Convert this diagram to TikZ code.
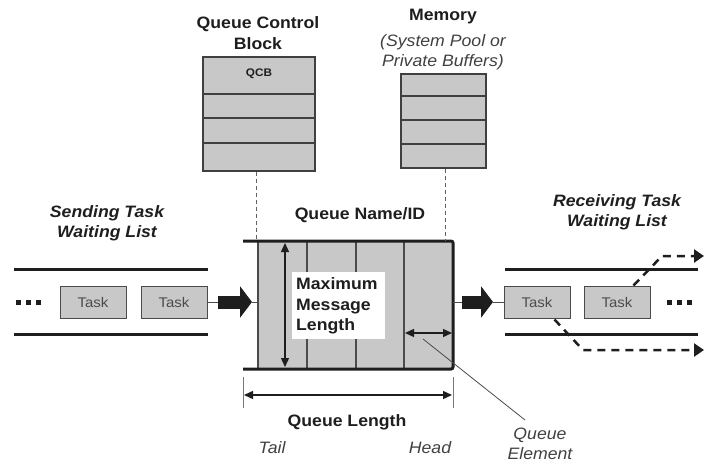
\documentclass[tikz,border=0pt]{standalone}
\usepackage{fontspec}
\setmainfont{Liberation Sans}[FakeStretch=1.07]
\usetikzlibrary{arrows.meta}
\definecolor{cellgray}{HTML}{C8C8C8}
\definecolor{ink}{HTML}{1E1E1E}
\newcommand{\ellipsisdots}{\rule{5pt}{5pt}\hspace{5pt}\rule{5pt}{5pt}\hspace{5pt}\rule{5pt}{5pt}}
\begin{document}
\begin{tikzpicture}[x=1pt,y=-1pt,
  lbl/.style={font=\fontsize{16.5}{20.5}\selectfont\bfseries, align=center, text=ink, inner sep=0pt},
  ilbl/.style={font=\fontsize{16.5}{20.5}\selectfont\itshape, align=center, text=ink!85, inner sep=0pt},
  task/.style={draw=ink!80, line width=1pt, fill=cellgray, minimum width=66pt, minimum height=32pt,
    inner sep=0pt, font=\fontsize{14}{16}\selectfont, text=ink!80},
  rail/.style={line width=3pt, draw=ink},
  thin/.style={line width=0.8pt, draw=ink!80},
  blockarrow/.style={line width=13pt, draw=ink, -{Triangle[length=12pt,width=31pt]}},
  dimarrow/.style={line width=1.4pt, draw=ink, {Triangle[length=9pt,width=8pt]}-{Triangle[length=9pt,width=8pt]}},
  linkdash/.style={line width=1pt, draw=ink!70, dash pattern=on 4pt off 3pt},
  movedash/.style={line width=2.5pt, draw=ink, dash pattern=on 8pt off 6pt, -{Triangle[length=10pt,width=13pt]}},
  stack/.style={draw=ink!85, line width=1.3pt, fill=cellgray, inner sep=0pt},
  dots/.style={inner sep=0pt, text=ink}
]
\useasboundingbox (0,0) rectangle (705,464);

% ---------- Queue control block ----------
\node[lbl] (qcbtitle) at (258,33) {Queue Control\\Block};
\node[stack, minimum width=112pt, minimum height=114pt] (qcb) at (259,114) {};
\foreach \yy in {94,118,143} \draw[line width=1.3pt, ink!85] (203,\yy) -- (315,\yy);
\node[font=\fontsize{11}{13}\selectfont\bfseries, text=ink] (qcblabel) at (259,74) {QCB};

% ---------- Memory ----------
\node[lbl] (memtitle) at (443,17) {Memory};
\node[ilbl] (memsub) at (443,52) {(System Pool or\\Private Buffers)};
\node[stack, minimum width=85pt, minimum height=94pt] (mem) at (443.5,121) {};
\foreach \yy in {96,120,144} \draw[line width=1.3pt, ink!85] (401,\yy) -- (486,\yy);

% ---------- Queue body ----------
\node[lbl] (qname) at (360,215) {Queue Name/ID};
\fill[cellgray] (258,241) rectangle (453,369);
\foreach \xx in {258,307,356,404} \draw[line width=1.2pt, ink!80] (\xx,241) -- (\xx,369);
\draw[line width=3pt, ink, rounded corners=2pt] (243,241) -- (453,241) -- (453,369) -- (243,369);
\coordinate (qin) at (258,302);
\coordinate (qout) at (453,302);

% links from control block and memory to the queue
\draw[linkdash] (qcb.south -| 256,0) -- (256,241);
\draw[linkdash] (mem.south -| 445,0) -- (445,241);

% maximum message length
\draw[dimarrow] (285,243) -- (285,367);
\node[fill=white, minimum width=93pt, minimum height=67pt, inner sep=0pt] (maxbox) at (338.5,305.5) {};
\node[lbl, align=left, anchor=west] (maxlen) at (296,306) {Maximum\\Message\\Length};

% queue element width
\draw[dimarrow] (405,333) -- (452,333);
\coordinate (elemptr) at (423,339);
\node[ilbl] (qelem) at (540,444) {Queue\\Element};
\draw[thin] (elemptr) -- (525,420);

% queue length
\draw[line width=0.8pt, ink!60] (243,377) -- (243,408);
\draw[line width=0.8pt, ink!60] (453,377) -- (453,408);
\draw[dimarrow] (244,395) -- (452,395);
\node[lbl] (qlen) at (347,422) {Queue Length};
\node[ilbl] (tail) at (272,448) {Tail};
\node[ilbl] (head) at (430,448) {Head};

% ---------- Sending side ----------
\node[lbl, font=\fontsize{16.5}{20.5}\selectfont\bfseries\itshape] (sendtitle) at (107,223) {Sending Task\\Waiting List};
\draw[rail] (14,269) -- (208,269);
\draw[rail] (14,334) -- (208,334);
\node[dots] (sdots) at (28.5,302) {\ellipsisdots};
\node[task] (s1) at (93,302) {Task};
\node[task] (s2) at (174,302) {Task};
\coordinate (sa0) at (218,302);
\coordinate (sa1) at (252,302);
\draw[thin] (s2.east) -- (sa0);
\draw[blockarrow] (sa0) -- (sa1);
\draw[thin] (sa1) -- (qin);

% ---------- Receiving side ----------
\node[lbl, font=\fontsize{16.5}{20.5}\selectfont\bfseries\itshape] (recvtitle) at (617,212) {Receiving Task\\Waiting List};
\draw[rail] (505,269) -- (698,269);
\draw[rail] (505,334) -- (698,334);
\node[task] (r1) at (537,302) {Task};
\node[task] (r2) at (617,302) {Task};
\node[dots] (rdots) at (679,302) {\ellipsisdots};
\coordinate (ra0) at (462,302);
\coordinate (ra1) at (493,302);
\draw[thin] (qout) -- (ra0);
\draw[blockarrow] (ra0) -- (ra1);
\draw[thin] (ra1) -- (r1.west);

% tasks leaving the waiting list
\coordinate (up1) at (662,256);
\coordinate (upend) at (704,256);
\coordinate (dn1) at (583,350);
\coordinate (dnend) at (704,350);
\draw[movedash] (r2.north east) ++(-17,0) -- (up1) -- (upend);
\draw[movedash] (r1.south east) ++(-16,1) -- (dn1) -- (dnend);
\end{tikzpicture}
\end{document}
